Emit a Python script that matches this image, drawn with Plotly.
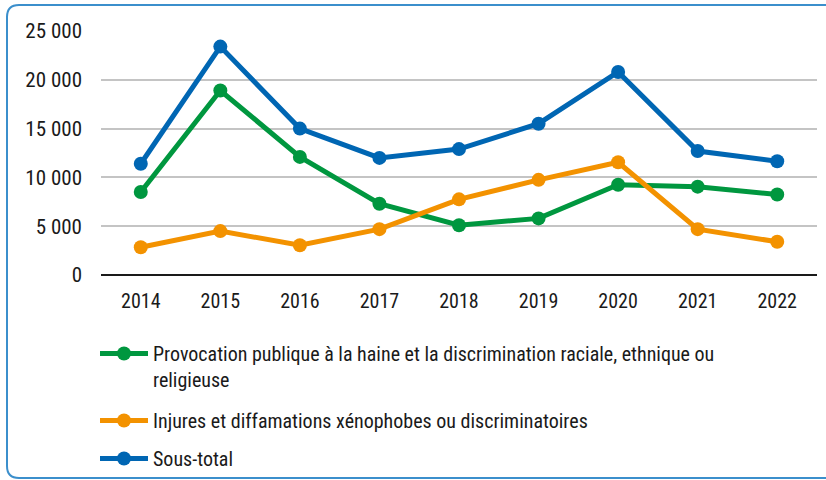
import plotly.graph_objects as go

years = ["2014", "2015", "2016", "2017", "2018", "2019", "2020", "2021", "2022"]
provocation = [8500, 18900, 12100, 7300, 5100, 5800, 9250, 9050, 8250]
injures = [2850, 4500, 3050, 4700, 7750, 9750, 11550, 4700, 3400]
sous_total = [11400, 23400, 15000, 12000, 12900, 15500, 20800, 12700, 11650]

names = [
    "Provocation publique à la haine et la discrimination raciale, ethnique ou<br>religieuse",
    "Injures et diffamations xénophobes ou discriminatoires",
    "Sous-total",
]
colors = ["#00973f", "#f39200", "#0066b3"]
series = [provocation, injures, sous_total]
legend_ids = ["legend", "legend2", "legend3"]

FONT = "Liberation Sans Narrow, Arial Narrow, Roboto Condensed, DejaVu Sans Condensed, sans-serif"

fig = go.Figure()
for n, c, s, lg in zip(names, colors, series, legend_ids):
    fig.add_trace(go.Scatter(
        x=years, y=s, name=n, mode="lines+markers",
        line=dict(color=c, width=5),
        marker=dict(color=c, size=14),
        legend=lg,
    ))

W, H = 826, 480
L, R, T, B = 101, 9, 31, 205
pw, ph = W - L - R, H - T - B

def px(x):
    return (x - L) / pw

def py(y):
    return (H - B - y) / ph

r = 12
x0, y0, x1, y1 = 7, 5, 840, 478
path = (f"M {px(x1)},{py(y0)} L {px(x0 + r)},{py(y0)} "
        f"Q {px(x0)},{py(y0)} {px(x0)},{py(y0 + r)} "
        f"L {px(x0)},{py(y1 - r)} Q {px(x0)},{py(y1)} {px(x0 + r)},{py(y1)} "
        f"L {px(x1)},{py(y1)}")

def legend_at(top):
    return dict(
        x=px(95), y=py(top), xanchor="left", yanchor="top", valign="top",
        itemwidth=48,
        font=dict(family=FONT, size=20, color="#1a1a1a"),
        bgcolor="rgba(0,0,0,0)",
    )

fig.update_layout(
    width=W, height=H,
    margin=dict(l=L, r=R, t=T, b=B, autoexpand=False),
    paper_bgcolor="white", plot_bgcolor="white",
    font=dict(family=FONT, size=20, color="#1a1a1a"),
    showlegend=True,
    legend=legend_at(334),
    legend2=legend_at(401),
    legend3=legend_at(439),
    shapes=[dict(type="path", xref="paper", yref="paper", path=path,
                 line=dict(color="#3b8fcc", width=2), layer="below")],
)
fig.update_xaxes(showgrid=False, ticks="", tickfont=dict(size=20), showline=False,
                 range=[-0.5, 8.5], ticklabelstandoff=12)
fig.update_yaxes(range=[0, 25000], tickvals=[0, 5000, 10000, 15000, 20000, 25000],
                 ticktext=["0", "5 000", "10 000", "15 000", "20 000", "25 000"],
                 showgrid=True, gridcolor="#c4c4c4", gridwidth=1.5,
                 zeroline=True, zerolinecolor="#1a1a1a", zerolinewidth=2,
                 tickfont=dict(size=21), ticks="", ticklen=0, ticklabelstandoff=18)
fig.write_html("out.html", config={"displayModeBar": False},
               post_script="document.body.style.margin='0';")
